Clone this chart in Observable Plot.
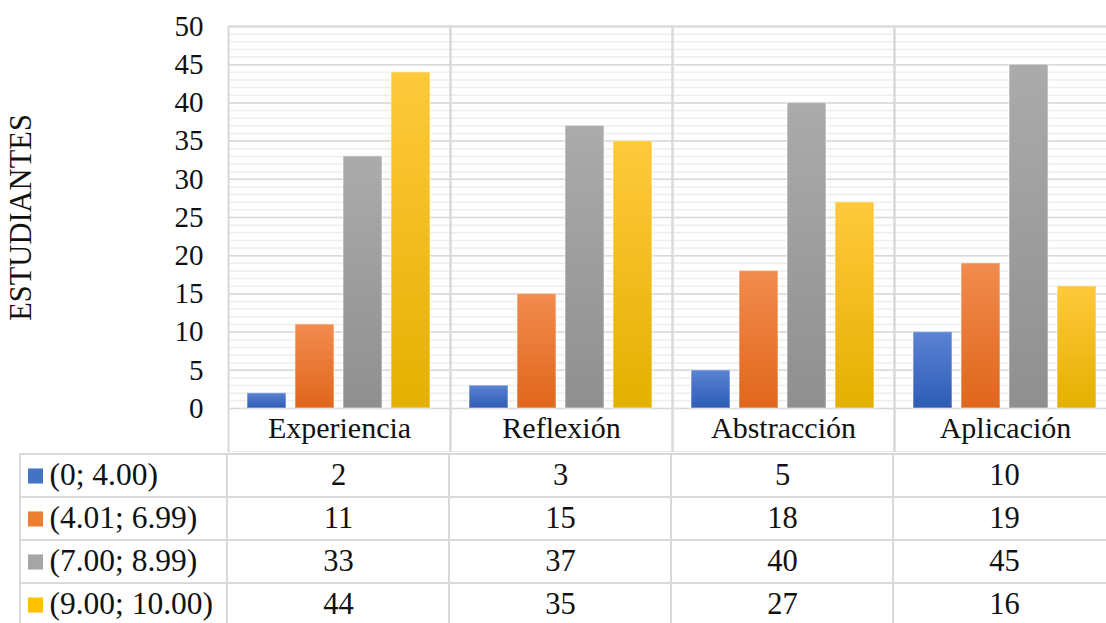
<!DOCTYPE html>
<html>
<head>
<meta charset="utf-8">
<script src="https://cdn.jsdelivr.net/npm/d3@7"></script>
<script src="https://cdn.jsdelivr.net/npm/@observablehq/plot@0.6"></script>
<style>
  html, body { margin: 0; padding: 0; background: #fff; overflow: hidden; }
  #chart svg { display: block; }
</style>
</head>
<body>
<div id="chart"></div>
<script>
// ---- data ----
const categories = ["Experiencia", "Reflexión", "Abstracción", "Aplicación"];
const series = ["(0; 4.00)", "(4.01; 6.99)", "(7.00; 8.99)", "(9.00; 10.00)"];
const s1 = [2, 3, 5, 10];      // (0; 4.00)
const s2 = [11, 15, 18, 19];   // (4.01; 6.99)
const s3 = [33, 37, 40, 45];   // (7.00; 8.99)
const s4 = [44, 35, 27, 16];   // (9.00; 10.00)
const yTicks = [0, 5, 10, 15, 20, 25, 30, 35, 40, 45, 50];
const yLabel = "ESTUDIANTES";

// ---- styles ----
const flatColors = ["#4472C4", "#ED7D31", "#A5A5A5", "#FFC000"];
const gradTop = ["#5b82d4", "#f28b4e", "#ababab", "#ffc93c"];
const gradBottom = ["#2d5cb6", "#e0661b", "#8f8f8f", "#e4b000"];
const font = "'Liberation Serif', 'Times New Roman', serif";
const gridMajor = "#d9d9d9";
const gridMinor = "#eeeeee";

const values = [s1, s2, s3, s4];
const rows = categories.flatMap((c, i) =>
  series.map((s, j) => ({category: c, series: s, value: values[j][i]}))
);
const minorTicks = d3.range(yTicks[0], yTicks[yTicks.length - 1] + 1, 1);

// layout
const W = 1106;
const left = 226;
const right = 1117;
const colW = (right - left) / categories.length;

const chart = Plot.plot({
  width: W,
  height: 452,
  marginTop: 26,
  marginBottom: 44,
  marginLeft: left,
  marginRight: 0,
  style: {fontFamily: font, background: "white", overflow: "hidden", maxWidth: "none", color: "#111"},
  fx: {domain: categories, range: [left, right], padding: 0, label: null},
  x: {domain: series, paddingInner: 0.184, paddingOuter: 0.36, axis: null},
  y: {domain: [0, 50], label: null},
  color: {domain: series, range: series.map((s, i) => `url(#grad${i})`)},
  marks: [
    Plot.ruleY(minorTicks, {y: d => d, stroke: gridMinor, strokeWidth: 1.5}),
    Plot.ruleY(yTicks, {y: d => d, stroke: gridMajor, strokeWidth: 1.5}),
    Plot.frame({stroke: gridMajor, strokeWidth: 2, insetBottom: -44}),
    Plot.barY(rows, {
      fx: "category", x: "series", y: "value", fill: "series",
      stroke: "white", strokeOpacity: 0.4, strokeWidth: 1.5
    }),
    Plot.axisY({ticks: yTicks, tickSize: 0, tickPadding: 25, fontSize: 29, label: null}),
    Plot.axisY({
      ticks: [], tickSize: 0, fontSize: 30.5,
      label: yLabel, labelAnchor: "center", labelOffset: 219, labelArrow: "none"
    }),
    Plot.axisFx({anchor: "bottom", tickSize: 0, tickPadding: 8, fontSize: 30, label: null})
  ]
});

const defs = d3.select(chart).insert("defs", ":first-child");
series.forEach((s, i) => {
  const lg = defs.append("linearGradient").attr("id", `grad${i}`)
    .attr("x1", 0).attr("y1", 0).attr("x2", 0).attr("y2", 1);
  lg.append("stop").attr("offset", "0%").attr("stop-color", gradTop[i]);
  lg.append("stop").attr("offset", "100%").attr("stop-color", gradBottom[i]);
});

// ---- data table ----
const legendCol = "";
const legendCells = series.map(s => ({col: legendCol, series: s}));
const valueCells = rows.map(d => ({col: d.category, series: d.series, value: d.value}));

const table = Plot.plot({
  width: W,
  height: 171,
  marginTop: 0,
  marginBottom: 0,
  marginLeft: 0,
  marginRight: 0,
  style: {fontFamily: font, background: "white", overflow: "hidden", maxWidth: "none", color: "#111"},
  x: {domain: [legendCol, ...categories], range: [left - colW, right], padding: 0, axis: null},
  y: {domain: series, range: [0, 175], padding: 0, axis: null},
  color: {domain: series, range: flatColors},
  marks: [
    Plot.cell(legendCells, {x: "col", y: "series", fill: "white", stroke: gridMajor, strokeWidth: 2, insetLeft: 15}),
    Plot.cell(valueCells, {x: "col", y: "series", fill: "white", stroke: gridMajor, strokeWidth: 2}),
    Plot.text(valueCells, {x: "col", y: "series", text: d => String(d.value), fontSize: 30.5, fill: "#111", dy: -1}),
    Plot.dot(legendCells, {x: "col", y: "series", symbol: "square", r: 8.5, fill: "series", dx: -81}),
    Plot.text(legendCells, {x: "col", y: "series", text: "series", textAnchor: "start", dx: -67, fontSize: 31.5, fill: "#111", dy: -1})
  ]
});

document.getElementById("chart").append(chart, table);
</script>
</body>
</html>
